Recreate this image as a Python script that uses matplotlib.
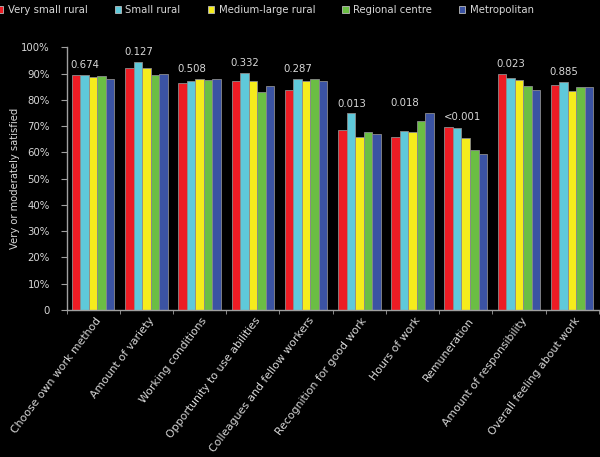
import matplotlib
matplotlib.use('Agg')
import matplotlib.pyplot as plt
import numpy as np
from matplotlib.patches import Patch

categories = ['Choose own work method', 'Amount of variety', 'Working conditions',
              'Opportunity to use abilities', 'Colleagues and fellow workers',
              'Recognition for good work', 'Hours of work', 'Remuneration',
              'Amount of responsibility', 'Overall feeling about work']
p_values = ['0.674', '0.127', '0.508', '0.332', '0.287', '0.013', '0.018', '<0.001', '0.023', '0.885']

series = ['Very small rural', 'Small rural', 'Medium-large rural', 'Regional centre', 'Metropolitan']
very_small = [89.4, 92.2, 86.4, 87.0, 83.8, 68.7, 66.0, 69.7, 89.7, 85.6]
small = [89.4, 94.3, 87.0, 90.1, 87.8, 74.8, 68.3, 69.3, 88.5, 86.7]
medium_large = [88.7, 92.1, 87.9, 87.0, 87.0, 66.0, 67.9, 65.6, 87.6, 83.2]
regional = [89.2, 89.3, 87.4, 82.9, 87.8, 67.6, 72.0, 60.8, 85.1, 84.7]
metro = [88.0, 89.8, 88.0, 85.1, 87.0, 67.0, 75.0, 59.5, 83.6, 84.7]
colors = ['#ed1c24', '#5fc9da', '#f5ec1c', '#6bbe44', '#3b53a3']

values = [very_small, small, medium_large, regional, metro]
txt = '#d8d8d8'
grey = '#a0a0a0'

fig = plt.figure(figsize=(6, 4.57), dpi=100, facecolor='black')
ax = fig.add_axes([0.111, 0.3217, 0.887, 0.5748])
ax.set_facecolor('black')

x = np.arange(len(categories))
w = 0.16
for j, (vals, c) in enumerate(zip(values, colors)):
    ax.bar(x + 0.1 + w * j + w / 2, vals, width=w, color=c,
           edgecolor='#8c8c8c', linewidth=0.6, zorder=2)

# p-values above each group
tops = np.max(np.array(values), axis=0)
for i, p in enumerate(p_values):
    ax.text(x[i] + 0.08, tops[i] + 3.8, p, ha='left', va='center',
            color=txt, fontsize=7.3)

ax.set_xlim(0, len(categories))
ax.set_ylim(0, 100)
ax.set_yticks(np.arange(0, 101, 10))
ax.set_yticklabels(['0'] + [f'{v}%' for v in range(10, 101, 10)])
ax.set_xticks(x + 0.53)
ax.set_xticklabels(categories, rotation=53, ha='right', va='top',
                   rotation_mode='anchor', fontsize=7.8, color=txt)
ax.set_xticks(np.arange(0, len(categories) + 1), minor=True)
ax.tick_params(axis='x', which='major', length=0, pad=4)
ax.tick_params(axis='x', which='minor', length=3, color=grey, direction='out')
ax.tick_params(axis='y', length=4, color=grey, labelsize=7.3, labelcolor=txt, pad=8)
ax.set_ylabel('Very or moderately satisfied', color=txt, fontsize=7.2, labelpad=1)

for s in ['top', 'right']:
    ax.spines[s].set_visible(False)
for s in ['left', 'bottom']:
    ax.spines[s].set_color(grey)
    ax.spines[s].set_linewidth(1)

handles = [Patch(facecolor=c, edgecolor='#bbbbbb', linewidth=0.6) for c in colors]
fig.legend(handles, series, loc='center left', bbox_to_anchor=(-0.005, 0.978),
           ncol=5, frameon=False, fontsize=7.3, handlelength=0.6, handleheight=0.6,
           handletextpad=0.45, columnspacing=2.7, labelcolor=txt,
           borderaxespad=0, borderpad=0)

fig.savefig('out.png', dpi=100, facecolor='black')
